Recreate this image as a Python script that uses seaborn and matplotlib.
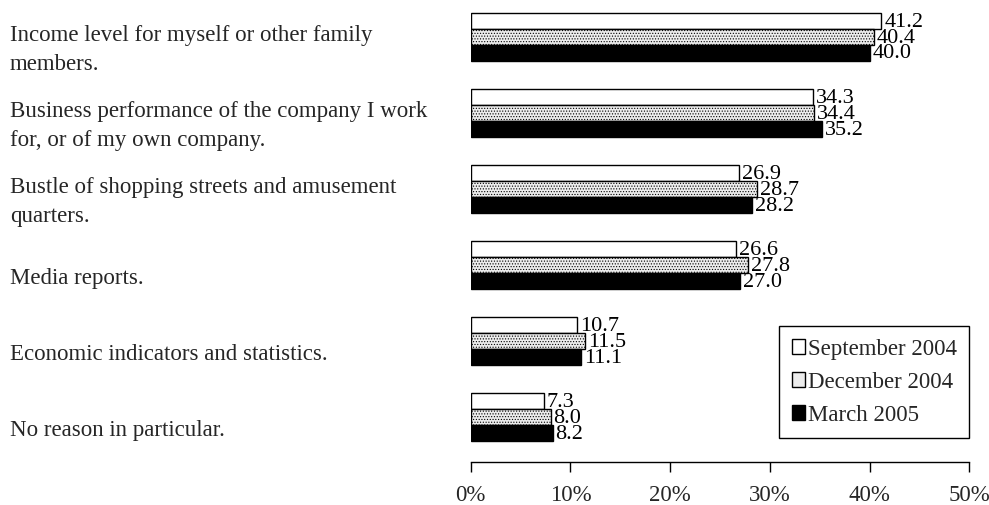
import matplotlib
matplotlib.use("Agg")
import matplotlib.pyplot as plt
import matplotlib.transforms as mtransforms
import pandas as pd
import seaborn as sns

# ---- data ----
reasons = [
    "Income level for myself or other family\nmembers.",
    "Business performance of the company I work\nfor, or of my own company.",
    "Bustle of shopping streets and amusement\nquarters.",
    "Media reports.",
    "Economic indicators and statistics.",
    "No reason in particular.",
]
surveys = ["September 2004", "December 2004", "March 2005"]
sep_2004 = [41.2, 34.3, 26.9, 26.6, 10.7, 7.3]
dec_2004 = [40.4, 34.4, 28.7, 27.8, 11.5, 8.0]
mar_2005 = [40.0, 35.2, 28.2, 27.0, 11.1, 8.2]
x_ticks = [0, 10, 20, 30, 40, 50]
x_ticklabels = ["0%", "10%", "20%", "30%", "40%", "50%"]

rows = []
for series, vals in zip(surveys, [sep_2004, dec_2004, mar_2005]):
    for r, v in zip(reasons, vals):
        rows.append({"reason": r, "survey": series, "value": v})
df = pd.DataFrame(rows)

FS = 16.5

sns.set_theme(style="white")
plt.rcParams["font.family"] = ["Liberation Serif", "DejaVu Serif"]
plt.rcParams["hatch.color"] = "#b4b4b4"
plt.rcParams["hatch.linewidth"] = 0.5

fig = plt.figure(figsize=(9.89, 5.06), dpi=100)
ax = fig.add_axes([0.476, 0.085, 0.504, 0.915])

sns.barplot(
    data=df, x="value", y="reason", hue="survey", orient="h",
    order=reasons, hue_order=surveys, width=0.63,
    palette=["white", "#ececec", "black"],
    edgecolor="black", linewidth=1, saturation=1, ax=ax,
)

# fine dotted fill for the December series
for bar in ax.containers[1]:
    bar.set_hatch("......")

for cont in ax.containers:
    ax.bar_label(cont, fmt="%.1f", padding=2, fontsize=16, color="black")

ax.set_xlim(0, 50)
ax.set_ylim(5.59, -0.5)
ax.set_xticks(x_ticks)
ax.set_xticklabels(x_ticklabels, fontsize=FS)
ax.tick_params(axis="x", bottom=True, direction="out", length=7, width=1,
               color="black", pad=9)
ax.set_yticks([])
ax.set_xlabel("")
ax.set_ylabel("")
for side in ["top", "right", "left"]:
    ax.spines[side].set_visible(False)
ax.spines["bottom"].set_color("black")
ax.spines["bottom"].set_linewidth(1)

# category labels at the left edge of the figure
trans = mtransforms.blended_transform_factory(fig.transFigure, ax.transData)
for i, r in enumerate(reasons):
    ax.text(0.010, i + 0.16, r, transform=trans, ha="left", va="center",
            fontsize=FS, linespacing=1.5)

ax.get_legend().remove()
leg = ax.legend(
    loc="lower right", bbox_to_anchor=(1.0, 0.052), fontsize=FS,
    frameon=True, fancybox=False, edgecolor="black", framealpha=1,
    handlelength=0.6, handleheight=0.6, handletextpad=0.1,
    labelspacing=0.52, borderpad=0.55, borderaxespad=0,
)
leg.get_frame().set_linewidth(1)

fig.savefig("out.png", dpi=100)
